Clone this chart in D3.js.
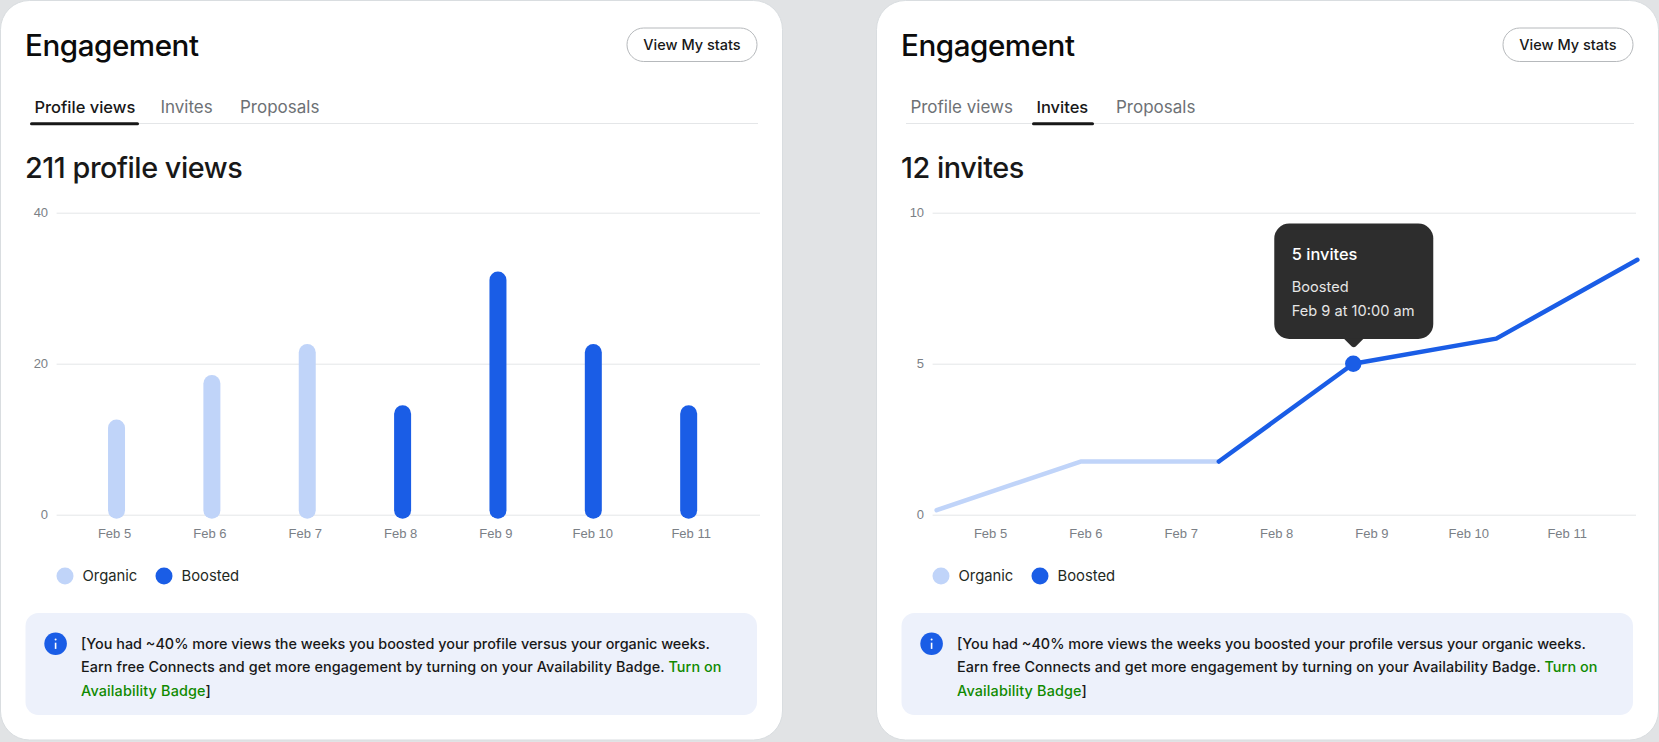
<!DOCTYPE html>
<html>
<head>
<meta charset="utf-8">
<title>Engagement</title>
<script src="https://cdn.jsdelivr.net/npm/d3@7/dist/d3.min.js"></script>
<style>
html, body { margin: 0; padding: 0; background: #e1e3e5; overflow: hidden; }
svg { display: block; font-family: Inter, "Liberation Sans", sans-serif; }
</style>
</head>
<body>
<div id="chart"></div>
<script>
var width = 1659;
var height = 742;

var days = ["Feb 5", "Feb 6", "Feb 7", "Feb 8", "Feb 9", "Feb 10", "Feb 11"];
var barValues = [12.6, 18.5, 22.6, 14.5, 32.2, 22.6, 14.5];
var barKinds = ["Organic", "Organic", "Organic", "Boosted", "Boosted", "Boosted", "Boosted"];
var barTicks = [0, 20, 40];

// line points: day of month (fractional) and invite count
var lineDays = [4.43, 5.94, 7.39, 8.8, 10.3, 11.78];
var lineValues = [0.15, 1.76, 1.76, 5, 5.83, 8.44];
var lineTicks = [0, 5, 10];
var organicCount = 3; // points in the organic part
var highlightIndex = 3;

var tabs = ["Profile views", "Invites", "Proposals"];
var legendItems = ["Organic", "Boosted"];
var tipLines = ["5 invites", "Boosted", "Feb 9 at 10:00 am"];
var colors = { Organic: "#c0d4f9", Boosted: "#1a5de6" };

var svg = d3.select("#chart").append("svg")
  .attr("width", width)
  .attr("height", height);

var x = d3.scaleBand().domain(days).range([68.85, 736.35]);
var xDay = d3.scaleLinear().domain([5, 11]).range([115, 687]);

function card(offset, activeTab, headline, yMax, ticks) {
  var g = svg.append("g").attr("transform", "translate(" + offset + ",0)");

  g.append("rect")
    .attr("x", 0.5).attr("y", 0.5)
    .attr("width", 782).attr("height", 739.5)
    .attr("rx", 29)
    .attr("fill", "#fff")
    .attr("stroke", "#d9dde0");

  g.append("text").attr("x", 25).attr("y", 55.5)
    .attr("font-size", 29.6).attr("letter-spacing", -0.45).attr("font-weight", 500)
    .attr("fill", "#0b0b0b")
    .text("Engagement");

  g.append("rect")
    .attr("x", 627).attr("y", 28).attr("width", 130).attr("height", 33.5).attr("rx", 16.7)
    .attr("fill", "#fff").attr("stroke", "#b6b9bc");
  g.append("text").attr("x", 692).attr("y", 50)
    .attr("text-anchor", "middle")
    .attr("font-size", 14.5).attr("font-weight", 500).attr("fill", "#181818")
    .text("View My stats");

  // tabs
  g.append("line")
    .attr("x1", 30).attr("x2", 758).attr("y1", 123.5).attr("y2", 123.5)
    .attr("stroke", "#e4e6e8");
  var tabStart = [34.4, 160.4, 240];
  var tabUnder = [[30, 139], [156, 218]];
  tabs.forEach(function(t, i) {
    g.append("text").attr("x", tabStart[i]).attr("y", 113.4)
      .attr("font-size", i == activeTab ? 16.5 : 17).attr("font-weight", i == activeTab ? 500 : 400)
      .attr("fill", i == activeTab ? "#181818" : "#6d7175")
      .text(t);
  });
  g.append("line")
    .attr("x1", tabUnder[activeTab][0] + 1.5).attr("x2", tabUnder[activeTab][1] - 1.5)
    .attr("y1", 123.8).attr("y2", 123.8)
    .attr("stroke", "#181818").attr("stroke-width", 3).attr("stroke-linecap", "round");

  g.append("text").attr("x", 25).attr("y", 177.6)
    .attr("font-size", 28.8).attr("letter-spacing", -0.45).attr("font-weight", 500)
    .attr("fill", "#181818")
    .text(headline);

  // axes
  var y = d3.scaleLinear().domain([0, yMax]).range([514.7, 212.7]);
  var yAxis = g.append("g")
    .attr("transform", "translate(56.6,0)")
    .call(d3.axisLeft(y).tickValues(ticks).tickSize(-703.4).tickPadding(8.5));
  yAxis.select(".domain").remove();
  yAxis.selectAll("line").attr("stroke", "#e4e6e8");
  yAxis.selectAll("text")
    .attr("font-family", "inherit").attr("font-size", 13).attr("fill", "#7b8086")
    .attr("dy", "0.3em");

  var xAxis = g.append("g")
    .attr("transform", "translate(-2,526)")
    .call(d3.axisBottom(x).tickSize(0).tickPadding(3));
  xAxis.select(".domain").remove();
  xAxis.selectAll("text")
    .attr("font-family", "inherit").attr("font-size", 13).attr("fill", "#7b8086")
    .attr("dx", function(d) { return d == "Feb 11" ? 4.5 : (d == "Feb 10" ? 1.5 : 0); });

  // legend
  var legendX = [65, 164];
  legendItems.forEach(function(k, i) {
    g.append("circle").attr("cx", legendX[i]).attr("cy", 576).attr("r", 8.5).attr("fill", colors[k]);
    g.append("text").attr("x", legendX[i] + 17.5).attr("y", 580.5)
      .attr("font-size", 14.8).attr("fill", "#1f2a1f")
      .text(k);
  });

  // info box
  g.append("rect")
    .attr("x", 25.5).attr("y", 613).attr("width", 731.5).attr("height", 102).attr("rx", 13)
    .attr("fill", "#edf1fb");
  g.append("circle").attr("cx", 55.6).attr("cy", 643.7).attr("r", 11.3).attr("fill", colors.Boosted);
  g.append("rect").attr("x", 54.8).attr("y", 642.7).attr("width", 1.6).attr("height", 6.2).attr("fill", "#fff");
  g.append("circle").attr("cx", 55.6).attr("cy", 639.6).attr("r", 1).attr("fill", "#fff");

  var note = g.append("g").attr("font-size", 14.4).attr("font-weight", 500).attr("fill", "#181818");
  note.append("text").attr("x", 81).attr("y", 648.5)
    .text("[You had ~40% more views the weeks you boosted your profile versus your organic weeks.");
  var line2 = note.append("text").attr("x", 81).attr("y", 672.2).attr("letter-spacing", 0.08);
  line2.append("tspan").text("Earn free Connects and get more engagement by turning on your Availability Badge. ");
  line2.append("tspan").attr("fill", "#108a00").text("Turn on");
  var line3 = note.append("text").attr("x", 81).attr("y", 695.9).attr("letter-spacing", 0.15);
  line3.append("tspan").attr("fill", "#108a00").text("Availability Badge");
  line3.append("tspan").text("]");

  return { g: g, y: y };
}

// left card: bars
var left = card(0, 0, "211 profile views", 40, barTicks);
var barWidth = 17;
left.g.selectAll(".bar")
  .data(days)
  .enter().append("rect")
  .attr("class", "bar")
  .attr("x", function(d) { return x(d) + x.bandwidth() / 2 - barWidth / 2; })
  .attr("y", function(d, i) { return left.y(barValues[i]); })
  .attr("width", barWidth)
  .attr("height", function(d, i) { return left.y(0) + 4 - left.y(barValues[i]); })
  .attr("rx", barWidth / 2)
  .attr("fill", function(d, i) { return colors[barKinds[i]]; });

// right card: line
var right = card(876, 1, "12 invites", 10, lineTicks);
var points = lineDays.map(function(d, i) { return [d, lineValues[i]]; });
var line = d3.line()
  .x(function(d) { return xDay(d[0]); })
  .y(function(d) { return right.y(d[1]); });

right.g.append("path")
  .attr("d", line(points.slice(0, organicCount)))
  .attr("fill", "none").attr("stroke", colors.Organic)
  .attr("stroke-width", 4.5).attr("stroke-linecap", "round").attr("stroke-linejoin", "round");
right.g.append("path")
  .attr("d", line(points.slice(organicCount - 1)))
  .attr("fill", "none").attr("stroke", colors.Boosted)
  .attr("stroke-width", 4.5).attr("stroke-linecap", "round").attr("stroke-linejoin", "round");

var hx = xDay(lineDays[highlightIndex]);
var hy = right.y(lineValues[highlightIndex]);
right.g.append("circle").attr("cx", hx).attr("cy", hy).attr("r", 8.2).attr("fill", colors.Boosted);

// tooltip sits above the highlighted point
var tip = right.g.append("g").attr("transform", "translate(" + (hx + 0.5) + "," + hy + ")");
tip.append("rect")
  .attr("x", -79.5).attr("y", -140.2).attr("width", 159).attr("height", 115.5).attr("rx", 15)
  .attr("fill", "#2d2d2d");
tip.append("path")
  .attr("d", "M-10,-25.2L-2,-17.2Q0,-15.7 2,-17.2L10,-25.2Z")
  .attr("fill", "#2d2d2d");
tip.append("text").attr("x", -62).attr("y", -104.2)
  .attr("font-size", 16.4).attr("font-weight", 500).attr("fill", "#fff").text(tipLines[0]);
tip.append("text").attr("x", -62).attr("y", -71.7)
  .attr("font-size", 14.6).attr("fill", "#e6e6e6").text(tipLines[1]);
tip.append("text").attr("x", -62).attr("y", -48.2)
  .attr("font-size", 14.6).attr("fill", "#e6e6e6").text(tipLines[2]);
</script>
</body>
</html>
